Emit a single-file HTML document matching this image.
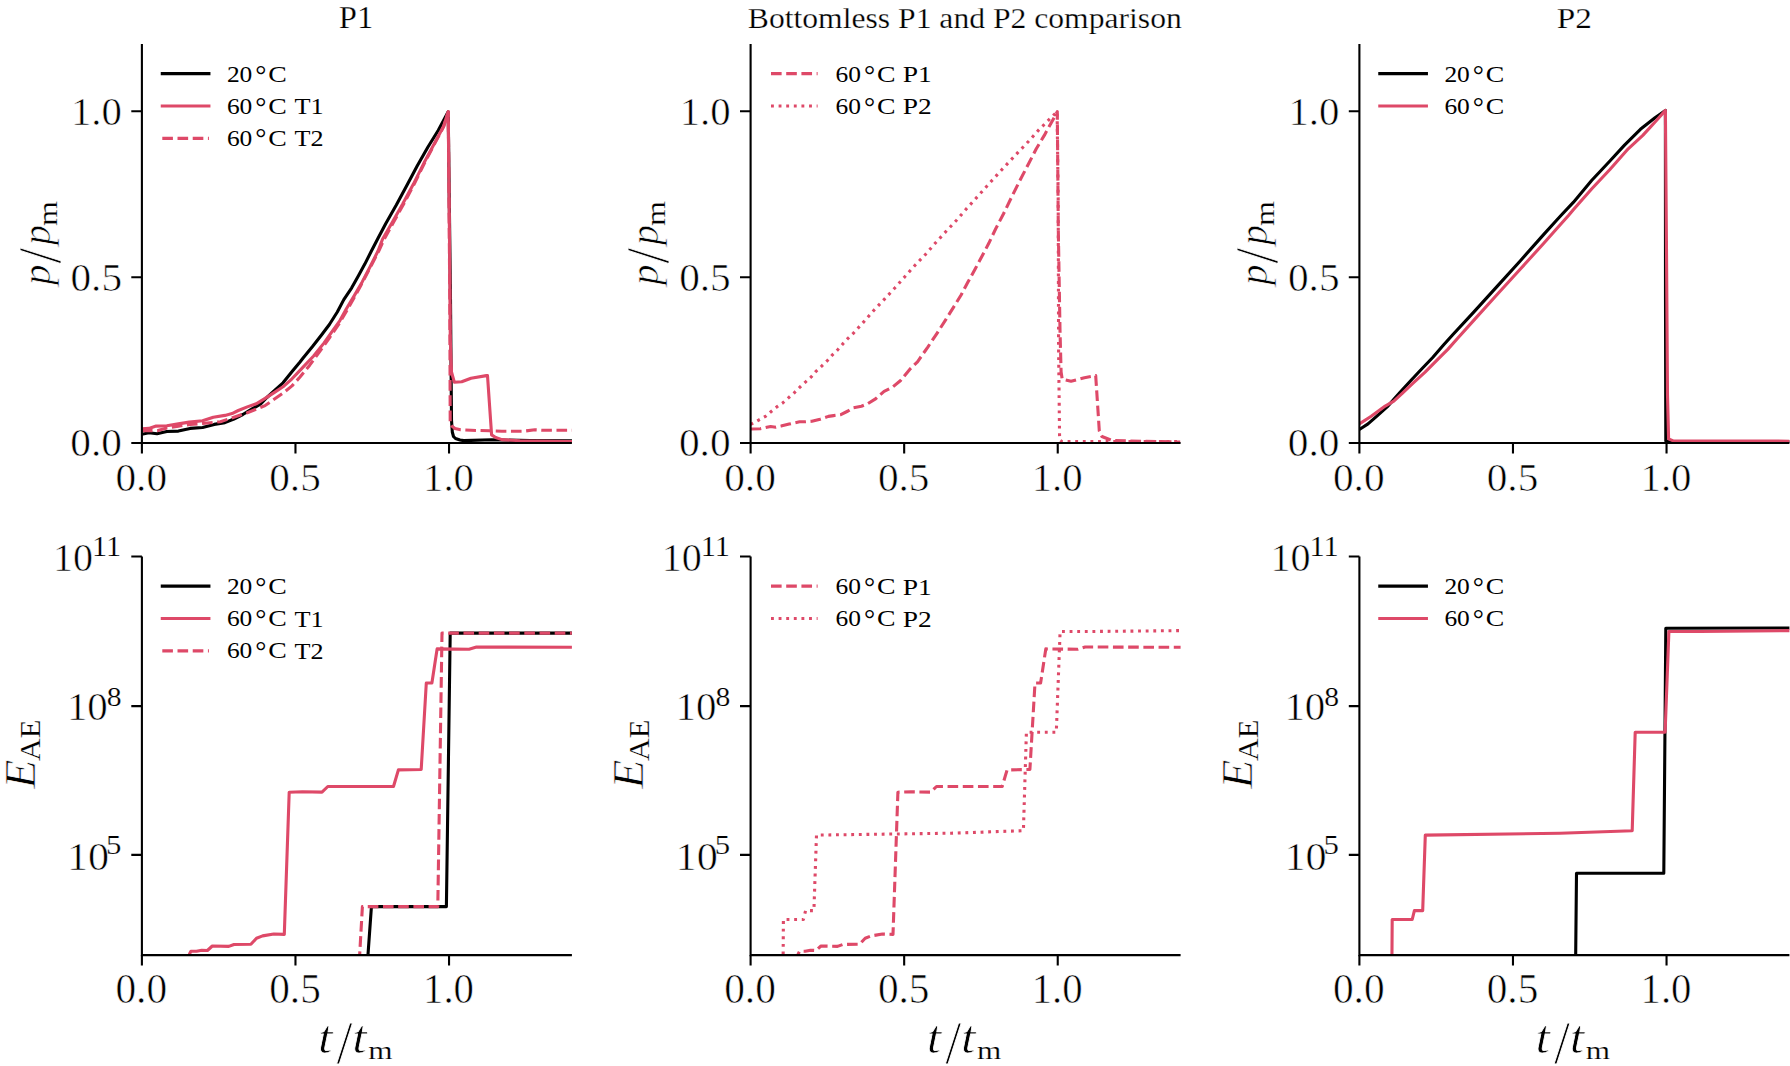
<!DOCTYPE html><html><head><meta charset="utf-8"><style>html,body{margin:0;padding:0;background:#fff;}svg{display:block;}text{font-family:"Liberation Serif","DejaVu Serif",serif;fill:#000;stroke:#fff;}</style></head><body>
<svg width="1790" height="1066" viewBox="0 0 1790 1066">
<rect width="1790" height="1066" fill="#fff"/>
<defs>
<clipPath id="c00"><rect x="141.9" y="44.0" width="430.00" height="399.00"/></clipPath>
<clipPath id="c01"><rect x="750.6" y="44.0" width="430.00" height="399.00"/></clipPath>
<clipPath id="c02"><rect x="1359.4" y="44.0" width="430.00" height="399.00"/></clipPath>
<clipPath id="c10"><rect x="141.9" y="556.5" width="430.00" height="398.60"/></clipPath>
<clipPath id="c11"><rect x="750.6" y="556.5" width="430.00" height="398.60"/></clipPath>
<clipPath id="c12"><rect x="1359.4" y="556.5" width="430.00" height="398.60"/></clipPath>
</defs>
<polyline points="141.9,434.3 148.9,432.8 157.0,433.7 166.8,431.5 178.4,431.1 190.1,428.4 202.6,427.5 214.2,424.4 224.9,422.6 233.9,419.0 242.8,414.5 251.7,409.2 260.7,403.8 266.9,397.5 274.1,390.8 283.0,382.8 292.5,371.0 300.0,362.0 303.1,358.0 312.3,346.8 321.5,335.0 329.4,324.5 337.3,312.0 343.8,299.6 351.7,287.8 358.3,275.9 364.8,264.1 371.4,251.0 377.5,239.3 385.8,223.5 396.3,205.1 406.8,185.4 417.3,165.7 427.8,147.3 438.3,130.2 448.2,111.8 450.5,300.0 451.5,420.0 452.3,432.0 453.5,436.5 455.5,438.5 460.0,440.0 463.7,440.6 491.6,439.8 530.0,440.6 571.9,440.9" stroke="#000" stroke-width="3.1" fill="none" stroke-linejoin="round" stroke-linecap="square" clip-path="url(#c00)"/>
<polyline points="141.9,428.9 148.9,428.4 156.1,426.1 166.8,425.7 178.4,423.9 189.2,422.1 202.6,420.8 213.3,417.2 224.9,415.4 232.1,413.6 238.3,410.5 247.3,406.9 256.2,403.8 265.1,398.4 274.1,392.6 283.0,386.8 292.0,378.8 301.2,369.1 313.6,356.0 324.1,342.9 332.0,331.7 339.9,320.6 346.4,308.8 354.3,295.6 362.2,281.9 370.1,266.8 378.0,251.0 382.5,239.3 392.3,222.2 402.8,203.8 413.4,184.1 423.9,163.1 434.4,143.4 443.6,126.3 448.2,111.8 449.5,239.3 450.3,340.0 451.5,372.0 454.4,382.3 461.7,381.8 471.0,378.2 486.4,375.6 487.5,375.6 491.6,434.9 495.7,437.5 501.9,439.6 520.0,440.8 571.9,441.6" stroke="#DE4968" stroke-width="3.1" fill="none" stroke-linejoin="round" stroke-linecap="square" clip-path="url(#c00)"/>
<polyline points="141.9,430.6 157.9,430.6 166.8,427.9 178.4,426.1 190.1,424.4 202.6,423.5 220.4,421.7 233.9,417.2 247.3,412.7 256.2,409.2 265.1,405.6 274.1,399.3 283.0,393.1 292.0,385.9 300.0,377.0 309.7,365.2 320.0,351.0 330.0,337.0 340.0,322.3 350.0,305.0 360.0,287.0 370.0,268.0 379.0,250.5 384.0,239.5 393.5,222.2 403.8,203.8 414.2,184.1 424.5,163.1 434.8,143.4 443.8,126.3 448.3,111.8 449.8,300.0 450.2,421.5 451.3,425.6 455.0,428.5 460.6,429.8 471.0,430.3 489.5,430.8 501.9,431.3 522.5,431.3 534.9,429.8 543.2,430.3 571.9,430.3" stroke="#DE4968" stroke-width="3.1" fill="none" stroke-linejoin="round" stroke-dasharray="10.62,4.59" stroke-linecap="butt" clip-path="url(#c00)"/>
<polyline points="750.6,429.0 760.3,428.8 770.6,426.5 775.8,427.2 781.0,426.1 789.2,424.1 799.5,421.8 805.7,421.8 811.9,421.3 820.1,419.2 828.4,416.4 833.6,415.6 840.8,414.6 848.0,411.0 853.2,407.9 861.4,406.3 867.6,403.8 875.9,398.6 884.1,391.4 892.4,387.3 900.6,380.5 909.9,369.2 917.5,361.8 928.0,346.8 937.0,333.3 946.1,319.1 953.6,307.1 961.1,295.0 967.8,282.3 975.3,268.8 982.1,256.0 988.8,243.3 995.6,229.0 1003.4,214.0 1012.0,196.3 1019.3,181.7 1027.8,165.2 1036.3,148.8 1044.3,135.4 1051.0,123.2 1055.2,115.9 1057.3,111.6 1058.3,229.3 1060.0,330.0 1061.1,372.0 1062.2,379.2 1071.0,381.3 1084.4,377.7 1095.7,375.6 1099.3,430.8 1101.9,436.5 1112.2,440.6 1180.3,442.1" stroke="#DE4968" stroke-width="3.1" fill="none" stroke-linejoin="round" stroke-dasharray="10.62,4.59" stroke-linecap="butt" clip-path="url(#c01)"/>
<polyline points="750.6,424.5 758.3,420.3 765.5,416.4 770.6,412.0 776.8,406.9 783.0,402.7 788.7,397.6 794.4,392.7 800.0,387.0 805.7,381.8 811.2,376.9 816.0,371.3 821.7,366.1 827.4,360.6 832.5,354.8 837.7,349.8 842.8,343.9 848.0,338.3 853.5,333.1 863.5,322.1 873.7,310.5 884.5,299.1 895.0,287.8 904.8,276.7 915.3,265.0 925.8,254.1 935.6,242.8 946.1,231.3 956.5,220.3 966.2,209.1 976.6,197.6 987.0,186.0 997.3,174.6 1007.7,163.4 1018.0,152.4 1028.4,141.5 1038.8,129.9 1049.8,118.9 1057.1,111.6 1058.2,200.0 1058.6,350.0 1059.6,440.0 1062.0,441.6 1180.3,441.6" stroke="#DE4968" stroke-width="3.1" fill="none" stroke-linejoin="round" stroke-dasharray="2.87,4.74" stroke-linecap="butt" clip-path="url(#c01)"/>
<polyline points="1359.4,429.5 1368.0,423.9 1376.6,416.3 1387.4,406.6 1400.3,392.0 1411.1,380.2 1421.9,368.8 1432.7,357.5 1443.5,345.1 1452.5,335.0 1473.5,312.4 1496.9,286.6 1520.4,260.7 1543.8,234.4 1555.0,222.0 1561.4,215.0 1573.3,202.4 1591.6,180.5 1609.9,161.0 1624.5,145.1 1640.4,129.3 1655.0,117.7 1665.4,110.4 1665.5,300.0 1665.8,441.0 1670.0,441.8 1790.0,441.8" stroke="#000" stroke-width="3.1" fill="none" stroke-linejoin="round" stroke-linecap="square" clip-path="url(#c02)"/>
<polyline points="1359.4,423.9 1371.2,416.3 1385.2,406.1 1393.8,401.2 1402.5,393.1 1413.3,382.9 1425.1,372.1 1437.0,360.2 1447.8,349.4 1457.0,339.0 1473.5,320.6 1496.9,294.8 1520.4,269.0 1543.8,243.2 1556.2,229.3 1568.5,215.5 1573.3,209.8 1591.6,189.0 1609.9,169.5 1628.2,148.8 1642.8,135.4 1656.2,120.7 1665.4,110.4 1666.5,250.0 1667.5,395.0 1668.6,438.9 1673.2,440.9 1790.0,441.2" stroke="#DE4968" stroke-width="3.1" fill="none" stroke-linejoin="round" stroke-linecap="square" clip-path="url(#c02)"/>
<polyline points="367.5,962.0 368.0,954.7 371.4,907.0 371.8,906.6 446.4,906.6 450.2,633.1 572.3,633.1" stroke="#000" stroke-width="3.1" fill="none" stroke-linejoin="round" stroke-linecap="square" clip-path="url(#c10)"/>
<polyline points="188.0,962.0 189.5,954.0 190.9,951.3 196.5,951.3 201.8,950.2 207.4,950.5 212.3,946.0 228.8,946.4 234.0,944.5 250.9,944.2 256.5,938.2 262.6,935.9 273.8,934.0 284.3,934.4 289.2,792.2 302.3,791.8 322.0,792.1 327.8,786.5 393.5,786.5 398.4,769.9 421.2,769.5 426.3,683.0 431.9,683.0 437.1,648.9 469.0,649.3 476.5,647.0 572.3,647.3" stroke="#DE4968" stroke-width="3.1" fill="none" stroke-linejoin="round" stroke-linecap="square" clip-path="url(#c10)"/>
<polyline points="359.3,962.0 359.8,952.4 362.4,906.6 437.8,906.6 442.0,633.1 572.3,633.1" stroke="#DE4968" stroke-width="3.1" fill="none" stroke-linejoin="round" stroke-dasharray="10.62,4.59" stroke-linecap="butt" clip-path="url(#c10)"/>
<polyline points="796.7,962.0 798.2,954.0 799.6,951.3 805.2,951.3 810.5,950.2 816.1,950.5 821.0,946.0 837.5,946.4 842.7,944.5 859.6,944.2 865.2,938.2 871.3,935.9 882.5,934.0 893.0,934.4 897.9,792.2 911.0,791.8 930.7,792.1 936.5,786.5 1002.2,786.5 1007.1,769.9 1029.9,769.5 1035.0,683.0 1040.6,683.0 1045.8,648.9 1077.7,649.3 1085.2,647.0 1181.0,647.3" stroke="#DE4968" stroke-width="3.1" fill="none" stroke-linejoin="round" stroke-dasharray="10.62,4.59" stroke-linecap="butt" clip-path="url(#c11)"/>
<polyline points="783.1,962.0 783.4,919.5 803.4,919.5 805.6,910.6 813.9,910.6 816.5,835.1 951.2,833.2 1023.4,830.7 1026.4,732.2 1056.3,732.2 1060.1,631.5 1091.2,631.5 1181.2,630.6" stroke="#DE4968" stroke-width="3.1" fill="none" stroke-linejoin="round" stroke-dasharray="2.87,4.74" stroke-linecap="butt" clip-path="url(#c11)"/>
<polyline points="1575.5,962.0 1575.7,954.0 1576.5,873.2 1663.8,873.2 1665.8,628.2 1790.0,628.0" stroke="#000" stroke-width="3.1" fill="none" stroke-linejoin="round" stroke-linecap="square" clip-path="url(#c12)"/>
<polyline points="1391.9,962.0 1392.2,919.5 1412.2,919.5 1414.4,910.6 1422.7,910.6 1425.3,835.1 1560.0,833.2 1632.2,830.7 1635.2,732.2 1665.1,732.2 1668.9,631.5 1700.0,631.5 1790.0,630.6" stroke="#DE4968" stroke-width="3.1" fill="none" stroke-linejoin="round" stroke-linecap="square" clip-path="url(#c12)"/>
<path d="M141.90,44.00V443.00H571.90" stroke="#000" stroke-width="2.1" fill="none" stroke-linecap="butt" stroke-linejoin="miter"/>
<path d="M141.90,443.00v10.5M295.47,443.00v10.5M449.04,443.00v10.5M141.90,443.00h-10.6M141.90,277.30h-10.6M141.90,111.26h-10.6" stroke="#000" stroke-width="2.1" fill="none"/>
<path d="M750.60,44.00V443.00H1180.60" stroke="#000" stroke-width="2.1" fill="none" stroke-linecap="butt" stroke-linejoin="miter"/>
<path d="M750.60,443.00v10.5M904.17,443.00v10.5M1057.74,443.00v10.5M750.60,443.00h-10.6M750.60,277.30h-10.6M750.60,111.26h-10.6" stroke="#000" stroke-width="2.1" fill="none"/>
<path d="M1359.40,44.00V443.00H1789.40" stroke="#000" stroke-width="2.1" fill="none" stroke-linecap="butt" stroke-linejoin="miter"/>
<path d="M1359.40,443.00v10.5M1512.97,443.00v10.5M1666.54,443.00v10.5M1359.40,443.00h-10.6M1359.40,277.30h-10.6M1359.40,111.26h-10.6" stroke="#000" stroke-width="2.1" fill="none"/>
<path d="M141.90,556.50V955.10H571.90" stroke="#000" stroke-width="2.1" fill="none" stroke-linecap="butt" stroke-linejoin="miter"/>
<path d="M141.90,955.10v10.5M295.47,955.10v10.5M449.04,955.10v10.5M141.90,556.50h-10.6M141.90,706.10h-10.6M141.90,854.90h-10.6" stroke="#000" stroke-width="2.1" fill="none"/>
<path d="M750.60,556.50V955.10H1180.60" stroke="#000" stroke-width="2.1" fill="none" stroke-linecap="butt" stroke-linejoin="miter"/>
<path d="M750.60,955.10v10.5M904.17,955.10v10.5M1057.74,955.10v10.5M750.60,556.50h-10.6M750.60,706.10h-10.6M750.60,854.90h-10.6" stroke="#000" stroke-width="2.1" fill="none"/>
<path d="M1359.40,556.50V955.10H1789.40" stroke="#000" stroke-width="2.1" fill="none" stroke-linecap="butt" stroke-linejoin="miter"/>
<path d="M1359.40,955.10v10.5M1512.97,955.10v10.5M1666.54,955.10v10.5M1359.40,556.50h-10.6M1359.40,706.10h-10.6M1359.40,854.90h-10.6" stroke="#000" stroke-width="2.1" fill="none"/>
<g>
<text x="338.88" y="28.32" font-size="30.98" style="" textLength="34.44" lengthAdjust="spacingAndGlyphs" stroke-width="0.25">P1</text>
<text x="747.81" y="27.90" font-size="28.82" style="" textLength="433.99" lengthAdjust="spacingAndGlyphs" stroke-width="0.25">Bottomless P1 and P2 comparison</text>
<text x="1556.86" y="28.02" font-size="30.42" style="" textLength="35.13" lengthAdjust="spacingAndGlyphs" stroke-width="0.25">P2</text>
<text x="115.45" y="490.69" font-size="40.59" style="" textLength="51.70" lengthAdjust="spacingAndGlyphs" stroke-width="0.6">0.0</text>
<text x="269.22" y="490.69" font-size="40.59" style="" textLength="51.60" lengthAdjust="spacingAndGlyphs" stroke-width="0.6">0.5</text>
<text x="423.02" y="490.69" font-size="40.59" style="" textLength="51.00" lengthAdjust="spacingAndGlyphs" stroke-width="0.6">1.0</text>
<text x="115.45" y="1003.08" font-size="41.32" style="" textLength="51.70" lengthAdjust="spacingAndGlyphs" stroke-width="0.6">0.0</text>
<text x="269.22" y="1003.08" font-size="41.32" style="" textLength="51.60" lengthAdjust="spacingAndGlyphs" stroke-width="0.6">0.5</text>
<text x="423.02" y="1003.08" font-size="41.32" style="" textLength="51.00" lengthAdjust="spacingAndGlyphs" stroke-width="0.6">1.0</text>
<text x="70.25" y="456.29" font-size="40.74" style="" textLength="51.70" lengthAdjust="spacingAndGlyphs" stroke-width="0.6">0.0</text>
<text x="70.45" y="290.59" font-size="40.74" style="" textLength="51.60" lengthAdjust="spacingAndGlyphs" stroke-width="0.6">0.5</text>
<text x="70.93" y="124.55" font-size="40.74" style="" textLength="51.00" lengthAdjust="spacingAndGlyphs" stroke-width="0.6">1.0</text>
<text x="52.99" y="570.79" font-size="40.59" style="" textLength="40.11" lengthAdjust="spacingAndGlyphs" stroke-width="0.6">10</text>
<text x="92.06" y="556.10" font-size="29.09" style="" textLength="29.06" lengthAdjust="spacingAndGlyphs" stroke-width="0.2">11</text>
<text x="66.92" y="719.89" font-size="40.74" style="" textLength="40.91" lengthAdjust="spacingAndGlyphs" stroke-width="0.6">10</text>
<text x="106.79" y="705.62" font-size="28.15" style="" textLength="14.82" lengthAdjust="spacingAndGlyphs" stroke-width="0.2">8</text>
<text x="66.91" y="869.50" font-size="39.56" style="" textLength="42.17" lengthAdjust="spacingAndGlyphs" stroke-width="0.6">10</text>
<text x="106.13" y="854.23" font-size="27.37" style="" textLength="15.40" lengthAdjust="spacingAndGlyphs" stroke-width="0.2">5</text>
<text x="318.12" y="1053.29" font-size="45.74" style="font-style:italic;" textLength="14.42" lengthAdjust="spacingAndGlyphs" stroke-width="0.7">t</text>
<text x="336.45" y="1062.55" font-size="60.45" style="" textLength="16.02" lengthAdjust="spacingAndGlyphs" stroke-width="0.9">/</text>
<text x="352.32" y="1053.29" font-size="45.74" style="font-style:italic;" textLength="14.42" lengthAdjust="spacingAndGlyphs" stroke-width="0.7">t</text>
<text x="368.28" y="1059.10" font-size="26.17" style="" textLength="24.30" lengthAdjust="spacingAndGlyphs" stroke-width="0.2">m</text>
<text x="0" y="0" font-size="39.56" style="font-style:italic;" stroke-width="0.7" textLength="20.57" lengthAdjust="spacingAndGlyphs" transform="translate(49.74,284.98) rotate(-90)">p</text>
<text x="0" y="0" font-size="61.19" style="" stroke-width="0.9" textLength="16.02" lengthAdjust="spacingAndGlyphs" transform="translate(59.64,263.85) rotate(-90)">/</text>
<text x="0" y="0" font-size="39.56" style="font-style:italic;" stroke-width="0.7" textLength="20.00" lengthAdjust="spacingAndGlyphs" transform="translate(49.74,245.05) rotate(-90)">p</text>
<text x="0" y="0" font-size="27.02" style="" stroke-width="0.2" textLength="24.93" lengthAdjust="spacingAndGlyphs" transform="translate(56.60,226.04) rotate(-90)">m</text>
<text x="0" y="0" font-size="43.66" style="font-style:italic;" stroke-width="0.7" textLength="29.16" lengthAdjust="spacingAndGlyphs" transform="translate(34.55,788.75) rotate(-90)">E</text>
<text x="0" y="0" font-size="30.00" style="" stroke-width="0.2" textLength="41.80" lengthAdjust="spacingAndGlyphs" transform="translate(40.00,761.11) rotate(-90)">AE</text>
<text x="724.15" y="490.69" font-size="40.59" style="" textLength="51.70" lengthAdjust="spacingAndGlyphs" stroke-width="0.6">0.0</text>
<text x="877.92" y="490.69" font-size="40.59" style="" textLength="51.60" lengthAdjust="spacingAndGlyphs" stroke-width="0.6">0.5</text>
<text x="1031.72" y="490.69" font-size="40.59" style="" textLength="51.00" lengthAdjust="spacingAndGlyphs" stroke-width="0.6">1.0</text>
<text x="724.15" y="1003.08" font-size="41.32" style="" textLength="51.70" lengthAdjust="spacingAndGlyphs" stroke-width="0.6">0.0</text>
<text x="877.92" y="1003.08" font-size="41.32" style="" textLength="51.60" lengthAdjust="spacingAndGlyphs" stroke-width="0.6">0.5</text>
<text x="1031.72" y="1003.08" font-size="41.32" style="" textLength="51.00" lengthAdjust="spacingAndGlyphs" stroke-width="0.6">1.0</text>
<text x="678.95" y="456.29" font-size="40.74" style="" textLength="51.70" lengthAdjust="spacingAndGlyphs" stroke-width="0.6">0.0</text>
<text x="679.15" y="290.59" font-size="40.74" style="" textLength="51.60" lengthAdjust="spacingAndGlyphs" stroke-width="0.6">0.5</text>
<text x="679.63" y="124.55" font-size="40.74" style="" textLength="51.00" lengthAdjust="spacingAndGlyphs" stroke-width="0.6">1.0</text>
<text x="661.69" y="570.79" font-size="40.59" style="" textLength="40.11" lengthAdjust="spacingAndGlyphs" stroke-width="0.6">10</text>
<text x="700.76" y="556.10" font-size="29.09" style="" textLength="29.06" lengthAdjust="spacingAndGlyphs" stroke-width="0.2">11</text>
<text x="675.62" y="719.89" font-size="40.74" style="" textLength="40.91" lengthAdjust="spacingAndGlyphs" stroke-width="0.6">10</text>
<text x="715.49" y="705.62" font-size="28.15" style="" textLength="14.82" lengthAdjust="spacingAndGlyphs" stroke-width="0.2">8</text>
<text x="675.61" y="869.50" font-size="39.56" style="" textLength="42.17" lengthAdjust="spacingAndGlyphs" stroke-width="0.6">10</text>
<text x="714.83" y="854.23" font-size="27.37" style="" textLength="15.40" lengthAdjust="spacingAndGlyphs" stroke-width="0.2">5</text>
<text x="926.82" y="1053.29" font-size="45.74" style="font-style:italic;" textLength="14.42" lengthAdjust="spacingAndGlyphs" stroke-width="0.7">t</text>
<text x="945.15" y="1062.55" font-size="60.45" style="" textLength="16.02" lengthAdjust="spacingAndGlyphs" stroke-width="0.9">/</text>
<text x="961.02" y="1053.29" font-size="45.74" style="font-style:italic;" textLength="14.42" lengthAdjust="spacingAndGlyphs" stroke-width="0.7">t</text>
<text x="976.98" y="1059.10" font-size="26.17" style="" textLength="24.30" lengthAdjust="spacingAndGlyphs" stroke-width="0.2">m</text>
<text x="0" y="0" font-size="39.56" style="font-style:italic;" stroke-width="0.7" textLength="20.57" lengthAdjust="spacingAndGlyphs" transform="translate(658.44,284.98) rotate(-90)">p</text>
<text x="0" y="0" font-size="61.19" style="" stroke-width="0.9" textLength="16.02" lengthAdjust="spacingAndGlyphs" transform="translate(668.34,263.85) rotate(-90)">/</text>
<text x="0" y="0" font-size="39.56" style="font-style:italic;" stroke-width="0.7" textLength="20.00" lengthAdjust="spacingAndGlyphs" transform="translate(658.44,245.05) rotate(-90)">p</text>
<text x="0" y="0" font-size="27.02" style="" stroke-width="0.2" textLength="24.93" lengthAdjust="spacingAndGlyphs" transform="translate(665.30,226.04) rotate(-90)">m</text>
<text x="0" y="0" font-size="43.66" style="font-style:italic;" stroke-width="0.7" textLength="29.16" lengthAdjust="spacingAndGlyphs" transform="translate(643.25,788.75) rotate(-90)">E</text>
<text x="0" y="0" font-size="30.00" style="" stroke-width="0.2" textLength="41.80" lengthAdjust="spacingAndGlyphs" transform="translate(648.70,761.11) rotate(-90)">AE</text>
<text x="1332.95" y="490.69" font-size="40.59" style="" textLength="51.70" lengthAdjust="spacingAndGlyphs" stroke-width="0.6">0.0</text>
<text x="1486.72" y="490.69" font-size="40.59" style="" textLength="51.60" lengthAdjust="spacingAndGlyphs" stroke-width="0.6">0.5</text>
<text x="1640.52" y="490.69" font-size="40.59" style="" textLength="51.00" lengthAdjust="spacingAndGlyphs" stroke-width="0.6">1.0</text>
<text x="1332.95" y="1003.08" font-size="41.32" style="" textLength="51.70" lengthAdjust="spacingAndGlyphs" stroke-width="0.6">0.0</text>
<text x="1486.72" y="1003.08" font-size="41.32" style="" textLength="51.60" lengthAdjust="spacingAndGlyphs" stroke-width="0.6">0.5</text>
<text x="1640.52" y="1003.08" font-size="41.32" style="" textLength="51.00" lengthAdjust="spacingAndGlyphs" stroke-width="0.6">1.0</text>
<text x="1287.75" y="456.29" font-size="40.74" style="" textLength="51.70" lengthAdjust="spacingAndGlyphs" stroke-width="0.6">0.0</text>
<text x="1287.95" y="290.59" font-size="40.74" style="" textLength="51.60" lengthAdjust="spacingAndGlyphs" stroke-width="0.6">0.5</text>
<text x="1288.43" y="124.55" font-size="40.74" style="" textLength="51.00" lengthAdjust="spacingAndGlyphs" stroke-width="0.6">1.0</text>
<text x="1270.49" y="570.79" font-size="40.59" style="" textLength="40.11" lengthAdjust="spacingAndGlyphs" stroke-width="0.6">10</text>
<text x="1309.56" y="556.10" font-size="29.09" style="" textLength="29.06" lengthAdjust="spacingAndGlyphs" stroke-width="0.2">11</text>
<text x="1284.42" y="719.89" font-size="40.74" style="" textLength="40.91" lengthAdjust="spacingAndGlyphs" stroke-width="0.6">10</text>
<text x="1324.29" y="705.62" font-size="28.15" style="" textLength="14.82" lengthAdjust="spacingAndGlyphs" stroke-width="0.2">8</text>
<text x="1284.41" y="869.50" font-size="39.56" style="" textLength="42.17" lengthAdjust="spacingAndGlyphs" stroke-width="0.6">10</text>
<text x="1323.63" y="854.23" font-size="27.37" style="" textLength="15.40" lengthAdjust="spacingAndGlyphs" stroke-width="0.2">5</text>
<text x="1535.62" y="1053.29" font-size="45.74" style="font-style:italic;" textLength="14.42" lengthAdjust="spacingAndGlyphs" stroke-width="0.7">t</text>
<text x="1553.95" y="1062.55" font-size="60.45" style="" textLength="16.02" lengthAdjust="spacingAndGlyphs" stroke-width="0.9">/</text>
<text x="1569.82" y="1053.29" font-size="45.74" style="font-style:italic;" textLength="14.42" lengthAdjust="spacingAndGlyphs" stroke-width="0.7">t</text>
<text x="1585.78" y="1059.10" font-size="26.17" style="" textLength="24.30" lengthAdjust="spacingAndGlyphs" stroke-width="0.2">m</text>
<text x="0" y="0" font-size="39.56" style="font-style:italic;" stroke-width="0.7" textLength="20.57" lengthAdjust="spacingAndGlyphs" transform="translate(1267.24,284.98) rotate(-90)">p</text>
<text x="0" y="0" font-size="61.19" style="" stroke-width="0.9" textLength="16.02" lengthAdjust="spacingAndGlyphs" transform="translate(1277.14,263.85) rotate(-90)">/</text>
<text x="0" y="0" font-size="39.56" style="font-style:italic;" stroke-width="0.7" textLength="20.00" lengthAdjust="spacingAndGlyphs" transform="translate(1267.24,245.05) rotate(-90)">p</text>
<text x="0" y="0" font-size="27.02" style="" stroke-width="0.2" textLength="24.93" lengthAdjust="spacingAndGlyphs" transform="translate(1274.10,226.04) rotate(-90)">m</text>
<text x="0" y="0" font-size="43.66" style="font-style:italic;" stroke-width="0.7" textLength="29.16" lengthAdjust="spacingAndGlyphs" transform="translate(1252.05,788.75) rotate(-90)">E</text>
<text x="0" y="0" font-size="30.00" style="" stroke-width="0.2" textLength="41.80" lengthAdjust="spacingAndGlyphs" transform="translate(1257.50,761.11) rotate(-90)">AE</text>
<polyline points="162.3,73.6 208.9,73.6" stroke="#000" stroke-width="3.1" fill="none" stroke-linejoin="round" stroke-linecap="square"/>
<text x="226.92" y="81.98" font-size="22.37" style="" textLength="25.43" lengthAdjust="spacingAndGlyphs" stroke-width="0.0">20</text>
<text x="255.38" y="83.69" font-size="26.45" style="" textLength="11.15" lengthAdjust="spacingAndGlyphs" stroke-width="0.0">°</text>
<text x="268.29" y="81.98" font-size="22.45" style="" textLength="18.52" lengthAdjust="spacingAndGlyphs" stroke-width="0.0">C</text>
<polyline points="162.3,106.0 208.9,106.0" stroke="#DE4968" stroke-width="3.1" fill="none" stroke-linejoin="round" stroke-linecap="square"/>
<text x="226.92" y="113.88" font-size="22.37" style="" textLength="25.43" lengthAdjust="spacingAndGlyphs" stroke-width="0.0">60</text>
<text x="255.38" y="115.59" font-size="26.45" style="" textLength="11.15" lengthAdjust="spacingAndGlyphs" stroke-width="0.0">°</text>
<text x="268.29" y="113.88" font-size="22.45" style="" textLength="18.52" lengthAdjust="spacingAndGlyphs" stroke-width="0.0">C</text>
<text x="294.44" y="114.10" font-size="22.58" style="" textLength="29.16" lengthAdjust="spacingAndGlyphs" stroke-width="0.0">T1</text>
<polyline points="162.3,138.4 208.9,138.4" stroke="#DE4968" stroke-width="3.1" fill="none" stroke-linejoin="round" stroke-dasharray="10.62,4.59" stroke-linecap="butt"/>
<text x="226.92" y="145.78" font-size="22.37" style="" textLength="25.43" lengthAdjust="spacingAndGlyphs" stroke-width="0.0">60</text>
<text x="255.38" y="147.49" font-size="26.45" style="" textLength="11.15" lengthAdjust="spacingAndGlyphs" stroke-width="0.0">°</text>
<text x="268.29" y="145.78" font-size="22.45" style="" textLength="18.52" lengthAdjust="spacingAndGlyphs" stroke-width="0.0">C</text>
<text x="294.44" y="146.00" font-size="22.49" style="" textLength="29.02" lengthAdjust="spacingAndGlyphs" stroke-width="0.0">T2</text>
<polyline points="771.0,73.6 817.6,73.6" stroke="#DE4968" stroke-width="3.1" fill="none" stroke-linejoin="round" stroke-dasharray="10.62,4.59" stroke-linecap="butt"/>
<text x="835.62" y="81.98" font-size="22.37" style="" textLength="25.43" lengthAdjust="spacingAndGlyphs" stroke-width="0.0">60</text>
<text x="864.08" y="83.69" font-size="26.45" style="" textLength="11.15" lengthAdjust="spacingAndGlyphs" stroke-width="0.0">°</text>
<text x="876.99" y="81.98" font-size="22.45" style="" textLength="18.52" lengthAdjust="spacingAndGlyphs" stroke-width="0.0">C</text>
<text x="902.84" y="82.20" font-size="22.58" style="" textLength="29.04" lengthAdjust="spacingAndGlyphs" stroke-width="0.0">P1</text>
<polyline points="771.0,106.0 817.6,106.0" stroke="#DE4968" stroke-width="3.1" fill="none" stroke-linejoin="round" stroke-dasharray="2.87,4.74" stroke-linecap="butt"/>
<text x="835.62" y="113.88" font-size="22.37" style="" textLength="25.43" lengthAdjust="spacingAndGlyphs" stroke-width="0.0">60</text>
<text x="864.08" y="115.59" font-size="26.45" style="" textLength="11.15" lengthAdjust="spacingAndGlyphs" stroke-width="0.0">°</text>
<text x="876.99" y="113.88" font-size="22.45" style="" textLength="18.52" lengthAdjust="spacingAndGlyphs" stroke-width="0.0">C</text>
<text x="902.85" y="114.10" font-size="22.49" style="" textLength="28.89" lengthAdjust="spacingAndGlyphs" stroke-width="0.0">P2</text>
<polyline points="1379.8,73.6 1426.4,73.6" stroke="#000" stroke-width="3.1" fill="none" stroke-linejoin="round" stroke-linecap="square"/>
<text x="1444.42" y="81.98" font-size="22.37" style="" textLength="25.43" lengthAdjust="spacingAndGlyphs" stroke-width="0.0">20</text>
<text x="1472.88" y="83.69" font-size="26.45" style="" textLength="11.15" lengthAdjust="spacingAndGlyphs" stroke-width="0.0">°</text>
<text x="1485.79" y="81.98" font-size="22.45" style="" textLength="18.52" lengthAdjust="spacingAndGlyphs" stroke-width="0.0">C</text>
<polyline points="1379.8,106.0 1426.4,106.0" stroke="#DE4968" stroke-width="3.1" fill="none" stroke-linejoin="round" stroke-linecap="square"/>
<text x="1444.42" y="113.88" font-size="22.37" style="" textLength="25.43" lengthAdjust="spacingAndGlyphs" stroke-width="0.0">60</text>
<text x="1472.88" y="115.59" font-size="26.45" style="" textLength="11.15" lengthAdjust="spacingAndGlyphs" stroke-width="0.0">°</text>
<text x="1485.79" y="113.88" font-size="22.45" style="" textLength="18.52" lengthAdjust="spacingAndGlyphs" stroke-width="0.0">C</text>
<polyline points="162.3,586.1 208.9,586.1" stroke="#000" stroke-width="3.1" fill="none" stroke-linejoin="round" stroke-linecap="square"/>
<text x="226.92" y="594.48" font-size="22.37" style="" textLength="25.43" lengthAdjust="spacingAndGlyphs" stroke-width="0.0">20</text>
<text x="255.38" y="596.19" font-size="26.45" style="" textLength="11.15" lengthAdjust="spacingAndGlyphs" stroke-width="0.0">°</text>
<text x="268.29" y="594.48" font-size="22.45" style="" textLength="18.52" lengthAdjust="spacingAndGlyphs" stroke-width="0.0">C</text>
<polyline points="162.3,618.5 208.9,618.5" stroke="#DE4968" stroke-width="3.1" fill="none" stroke-linejoin="round" stroke-linecap="square"/>
<text x="226.92" y="626.38" font-size="22.37" style="" textLength="25.43" lengthAdjust="spacingAndGlyphs" stroke-width="0.0">60</text>
<text x="255.38" y="628.09" font-size="26.45" style="" textLength="11.15" lengthAdjust="spacingAndGlyphs" stroke-width="0.0">°</text>
<text x="268.29" y="626.38" font-size="22.45" style="" textLength="18.52" lengthAdjust="spacingAndGlyphs" stroke-width="0.0">C</text>
<text x="294.44" y="626.60" font-size="22.58" style="" textLength="29.16" lengthAdjust="spacingAndGlyphs" stroke-width="0.0">T1</text>
<polyline points="162.3,650.9 208.9,650.9" stroke="#DE4968" stroke-width="3.1" fill="none" stroke-linejoin="round" stroke-dasharray="10.62,4.59" stroke-linecap="butt"/>
<text x="226.92" y="658.28" font-size="22.37" style="" textLength="25.43" lengthAdjust="spacingAndGlyphs" stroke-width="0.0">60</text>
<text x="255.38" y="659.99" font-size="26.45" style="" textLength="11.15" lengthAdjust="spacingAndGlyphs" stroke-width="0.0">°</text>
<text x="268.29" y="658.28" font-size="22.45" style="" textLength="18.52" lengthAdjust="spacingAndGlyphs" stroke-width="0.0">C</text>
<text x="294.44" y="658.50" font-size="22.49" style="" textLength="29.02" lengthAdjust="spacingAndGlyphs" stroke-width="0.0">T2</text>
<polyline points="771.0,586.1 817.6,586.1" stroke="#DE4968" stroke-width="3.1" fill="none" stroke-linejoin="round" stroke-dasharray="10.62,4.59" stroke-linecap="butt"/>
<text x="835.62" y="594.48" font-size="22.37" style="" textLength="25.43" lengthAdjust="spacingAndGlyphs" stroke-width="0.0">60</text>
<text x="864.08" y="596.19" font-size="26.45" style="" textLength="11.15" lengthAdjust="spacingAndGlyphs" stroke-width="0.0">°</text>
<text x="876.99" y="594.48" font-size="22.45" style="" textLength="18.52" lengthAdjust="spacingAndGlyphs" stroke-width="0.0">C</text>
<text x="902.84" y="594.70" font-size="22.58" style="" textLength="29.04" lengthAdjust="spacingAndGlyphs" stroke-width="0.0">P1</text>
<polyline points="771.0,618.5 817.6,618.5" stroke="#DE4968" stroke-width="3.1" fill="none" stroke-linejoin="round" stroke-dasharray="2.87,4.74" stroke-linecap="butt"/>
<text x="835.62" y="626.38" font-size="22.37" style="" textLength="25.43" lengthAdjust="spacingAndGlyphs" stroke-width="0.0">60</text>
<text x="864.08" y="628.09" font-size="26.45" style="" textLength="11.15" lengthAdjust="spacingAndGlyphs" stroke-width="0.0">°</text>
<text x="876.99" y="626.38" font-size="22.45" style="" textLength="18.52" lengthAdjust="spacingAndGlyphs" stroke-width="0.0">C</text>
<text x="902.85" y="626.60" font-size="22.49" style="" textLength="28.89" lengthAdjust="spacingAndGlyphs" stroke-width="0.0">P2</text>
<polyline points="1379.8,586.1 1426.4,586.1" stroke="#000" stroke-width="3.1" fill="none" stroke-linejoin="round" stroke-linecap="square"/>
<text x="1444.42" y="594.48" font-size="22.37" style="" textLength="25.43" lengthAdjust="spacingAndGlyphs" stroke-width="0.0">20</text>
<text x="1472.88" y="596.19" font-size="26.45" style="" textLength="11.15" lengthAdjust="spacingAndGlyphs" stroke-width="0.0">°</text>
<text x="1485.79" y="594.48" font-size="22.45" style="" textLength="18.52" lengthAdjust="spacingAndGlyphs" stroke-width="0.0">C</text>
<polyline points="1379.8,618.5 1426.4,618.5" stroke="#DE4968" stroke-width="3.1" fill="none" stroke-linejoin="round" stroke-linecap="square"/>
<text x="1444.42" y="626.38" font-size="22.37" style="" textLength="25.43" lengthAdjust="spacingAndGlyphs" stroke-width="0.0">60</text>
<text x="1472.88" y="628.09" font-size="26.45" style="" textLength="11.15" lengthAdjust="spacingAndGlyphs" stroke-width="0.0">°</text>
<text x="1485.79" y="626.38" font-size="22.45" style="" textLength="18.52" lengthAdjust="spacingAndGlyphs" stroke-width="0.0">C</text>
</g>
</svg></body></html>
